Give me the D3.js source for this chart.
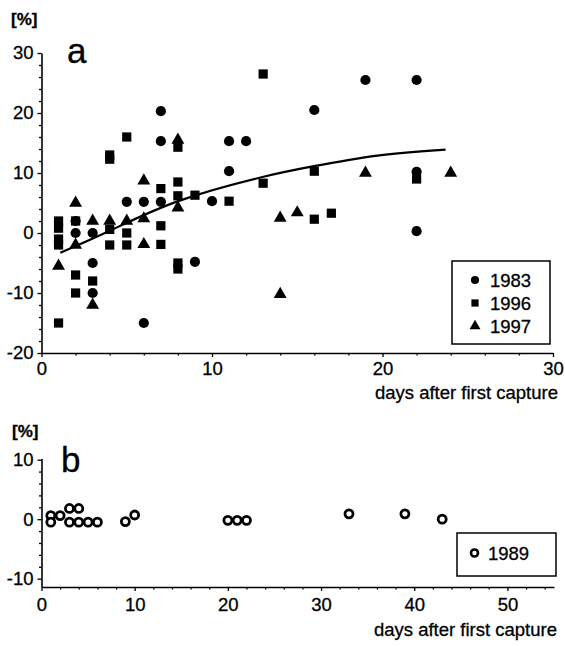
<!DOCTYPE html>
<html>
<head>
<meta charset="utf-8">
<script src="https://cdn.jsdelivr.net/npm/d3@7"></script>
<style>
  body { margin: 0; background: #fff; }
  svg { display: block; font-family: "Liberation Sans", Arial, sans-serif; }
  text { stroke: #000; stroke-width: 0.3; fill: #000; }
</style>
</head>
<body>
<div id="chart"></div>
<script>
// panel a: [day, %] per year
const s1983 = [[2,2],[2,0],[3,0],[3,-5],[3,-10],[5,5.2],[6,5.2],[6,-15],[7,5.2],[7,20.3],[7,15.3],[9,-4.8],[10,5.3],[11,15.3],[11,10.3],[12,15.3],[16,20.5],[19,25.5],[22,25.5],[22,10.2],[22,0.3]]
const s1996 = [[1,2],[1,0.8],[1,-1],[1,-2],[1,-15],[2,2],[2,-7],[2,-10],[3,-8],[4,0.6],[4,-2],[4,13],[4,12.3],[5,0],[5,-2],[5,16],[7,7.4],[7,1.2],[7,-1.9],[8,8.5],[8,6.2],[8,-5],[8,-6],[8,14.3],[9,6.3],[11,5.3],[13,26.5],[13,8.3],[16,10.3],[16,2.3],[17,3.3],[22,9]]
const s1997 = [[1,-5.5],[2,5],[2,-2],[3,2],[3,-12],[4,2],[5,2],[6,8.7],[6,2.4],[6,-1.9],[8,4.2],[8,15.5],[14,2.5],[14,-10.2],[15,3.4],[19,10],[24,10]]
// trend line
const trend = [[1.1,-3.3],[4.1,0.5],[8.1,5.4],[12.9,9.3],[15.9,11.1],[19.7,12.9],[23.7,13.9]]
// panel b: 1989
const s1989 = [[1,0.6],[1,-0.5],[2,0.6],[3,1.8],[3,-0.5],[4,1.8],[4,-0.5],[5,-0.5],[6,-0.5],[9,-0.4],[10,0.7],[20,-0.2],[21,-0.2],[22,-0.2],[33,0.9],[39,0.9],[43,0]]

const aXTicks = [0, 10, 20, 30]
const aYTicks = [-20, -10, 0, 10, 20, 30]
const bXTicks = [0, 10, 20, 30, 40, 50]
const bYTicks = [-10, 0, 10]
const xTitle = "days after first capture"

const width = 565, height = 646
const svg = d3.select("#chart").append("svg")
    .attr("width", width)
    .attr("height", height)
    .attr("viewBox", [0, 0, width, height])

const fontSize = 18.5
const plain = d => String(d)   // hyphen minus like the original

function drawAxes(g, x, y, xTicks, yTicks, xMinorStep, yMinorStep, labelPad) {
    const [x0, x1] = x.domain()
    const [y0, y1] = y.domain()
    const xMinor = d3.range(Math.ceil(x0), x1 + 0.001, xMinorStep).filter(v => !xTicks.includes(v))
    const yMinor = d3.range(Math.ceil(y0 / yMinorStep) * yMinorStep, y1 + 0.001, yMinorStep).filter(v => !yTicks.includes(v))
    const yAxisX = x(x0)
    const xAxisY = y(y0)

    // minor ticks
    g.append("g")
        .attr("transform", `translate(0,${xAxisY})`)
        .call(d3.axisBottom(x).tickValues(xMinor).tickSize(2.5).tickFormat("").tickSizeOuter(0))
        .call(s => s.select(".domain").remove())
    g.append("g")
        .attr("transform", `translate(${yAxisX},0)`)
        .call(d3.axisLeft(y).tickValues(yMinor).tickSize(2.5).tickFormat("").tickSizeOuter(0))
        .call(s => s.select(".domain").remove())

    // major
    g.append("g")
        .attr("transform", `translate(0,${xAxisY})`)
        .call(d3.axisBottom(x).tickValues(xTicks).tickFormat(plain).tickSize(4).tickPadding(labelPad).tickSizeOuter(0))
        .call(s => s.selectAll("text").attr("font-size", fontSize).attr("fill", "#000"))
    g.append("g")
        .attr("transform", `translate(${yAxisX},0)`)
        .call(d3.axisLeft(y).tickValues(yTicks).tickFormat(plain).tickSize(4).tickPadding(4).tickSizeOuter(0))
        .call(s => s.selectAll("text").attr("font-size", fontSize).attr("fill", "#000"))

    g.selectAll(".domain").attr("stroke", "#000").attr("stroke-width", 1.6)
    g.selectAll(".tick line").attr("stroke", "#000").attr("stroke-width", 1.3)
}

// ---------- panel a ----------
const xa = d3.scaleLinear([0, 30], [41.5, 553])
const ya = d3.scaleLinear([-20, 30], [353, 53])
const ga = svg.append("g")
drawAxes(ga, xa, ya, aXTicks, aYTicks, 2, 2, 5)

const line = d3.line().x(d => xa(d[0])).y(d => ya(d[1])).curve(d3.curveNatural)
ga.append("path")
    .datum(trend)
    .attr("d", line)
    .attr("fill", "none")
    .attr("stroke", "#000")
    .attr("stroke-width", 2.2)

const shapes = {circle: d3.symbolCircle, square: d3.symbolSquare, triangle: d3.symbolTriangle}
const sizes = {circle: 82, square: 85, triangle: 72}
const seriesA = [
    {name: "1983", data: s1983, shape: "circle"},
    {name: "1996", data: s1996, shape: "square"},
    {name: "1997", data: s1997, shape: "triangle"}
]
seriesA.forEach(s => {
    ga.append("g").selectAll("path")
        .data(s.data)
        .join("path")
        .attr("transform", d => `translate(${xa(d[0])},${ya(d[1])})`)
        .attr("d", d3.symbol(shapes[s.shape], sizes[s.shape]))
        .attr("fill", "#000")
})

// legend a
const lga = ga.append("g").attr("transform", "translate(452,261)")
lga.append("rect").attr("width", 98).attr("height", 83)
    .attr("fill", "#fff").attr("stroke", "#000").attr("stroke-width", 1.5)
seriesA.forEach((s, i) => {
    const row = lga.append("g").attr("transform", `translate(23,${19 + i * 23})`)
    row.append("path").attr("d", d3.symbol(shapes[s.shape], 52)).attr("fill", "#000")
    row.append("text").attr("x", 15).attr("dy", "0.36em")
        .attr("font-size", fontSize).text(s.name)
})

ga.append("text").attr("x", 11).attr("y", 25).attr("font-size", 17).attr("font-weight", "bold").text("[%]")
ga.append("text").attr("x", 67).attr("y", 63).attr("font-size", 35).text("a")
ga.append("text").attr("x", 558).attr("y", 399).attr("text-anchor", "end")
    .attr("font-size", fontSize).text(xTitle)

// ---------- panel b ----------
const xb = d3.scaleLinear([0, 55], [41.5, 554])
const yb = d3.scaleLinear([-11.4, 10.2], [587, 458.5])
const gb = svg.append("g")
drawAxes(gb, xb, yb, bXTicks, bYTicks, 2, 2, 7)

gb.append("g").selectAll("circle")
    .data(s1989)
    .join("circle")
    .attr("cx", d => xb(d[0]))
    .attr("cy", d => yb(d[1]))
    .attr("r", 4)
    .attr("fill", "#fff")
    .attr("stroke", "#000")
    .attr("stroke-width", 2.8)

const lgb = gb.append("g").attr("transform", "translate(457,533)")
lgb.append("rect").attr("width", 99).attr("height", 43)
    .attr("fill", "#fff").attr("stroke", "#000").attr("stroke-width", 1.5)
lgb.append("circle").attr("cx", 17.5).attr("cy", 20).attr("r", 3.5)
    .attr("fill", "#fff").attr("stroke", "#000").attr("stroke-width", 2.6)
lgb.append("text").attr("x", 31).attr("y", 20).attr("dy", "0.36em")
    .attr("font-size", fontSize).text("1989")

gb.append("text").attr("x", 12).attr("y", 437).attr("font-size", 17).attr("font-weight", "bold").text("[%]")
gb.append("text").attr("x", 61).attr("y", 472).attr("font-size", 35).text("b")
gb.append("text").attr("x", 557).attr("y", 636).attr("text-anchor", "end")
    .attr("font-size", fontSize).text(xTitle)
</script>
</body>
</html>
